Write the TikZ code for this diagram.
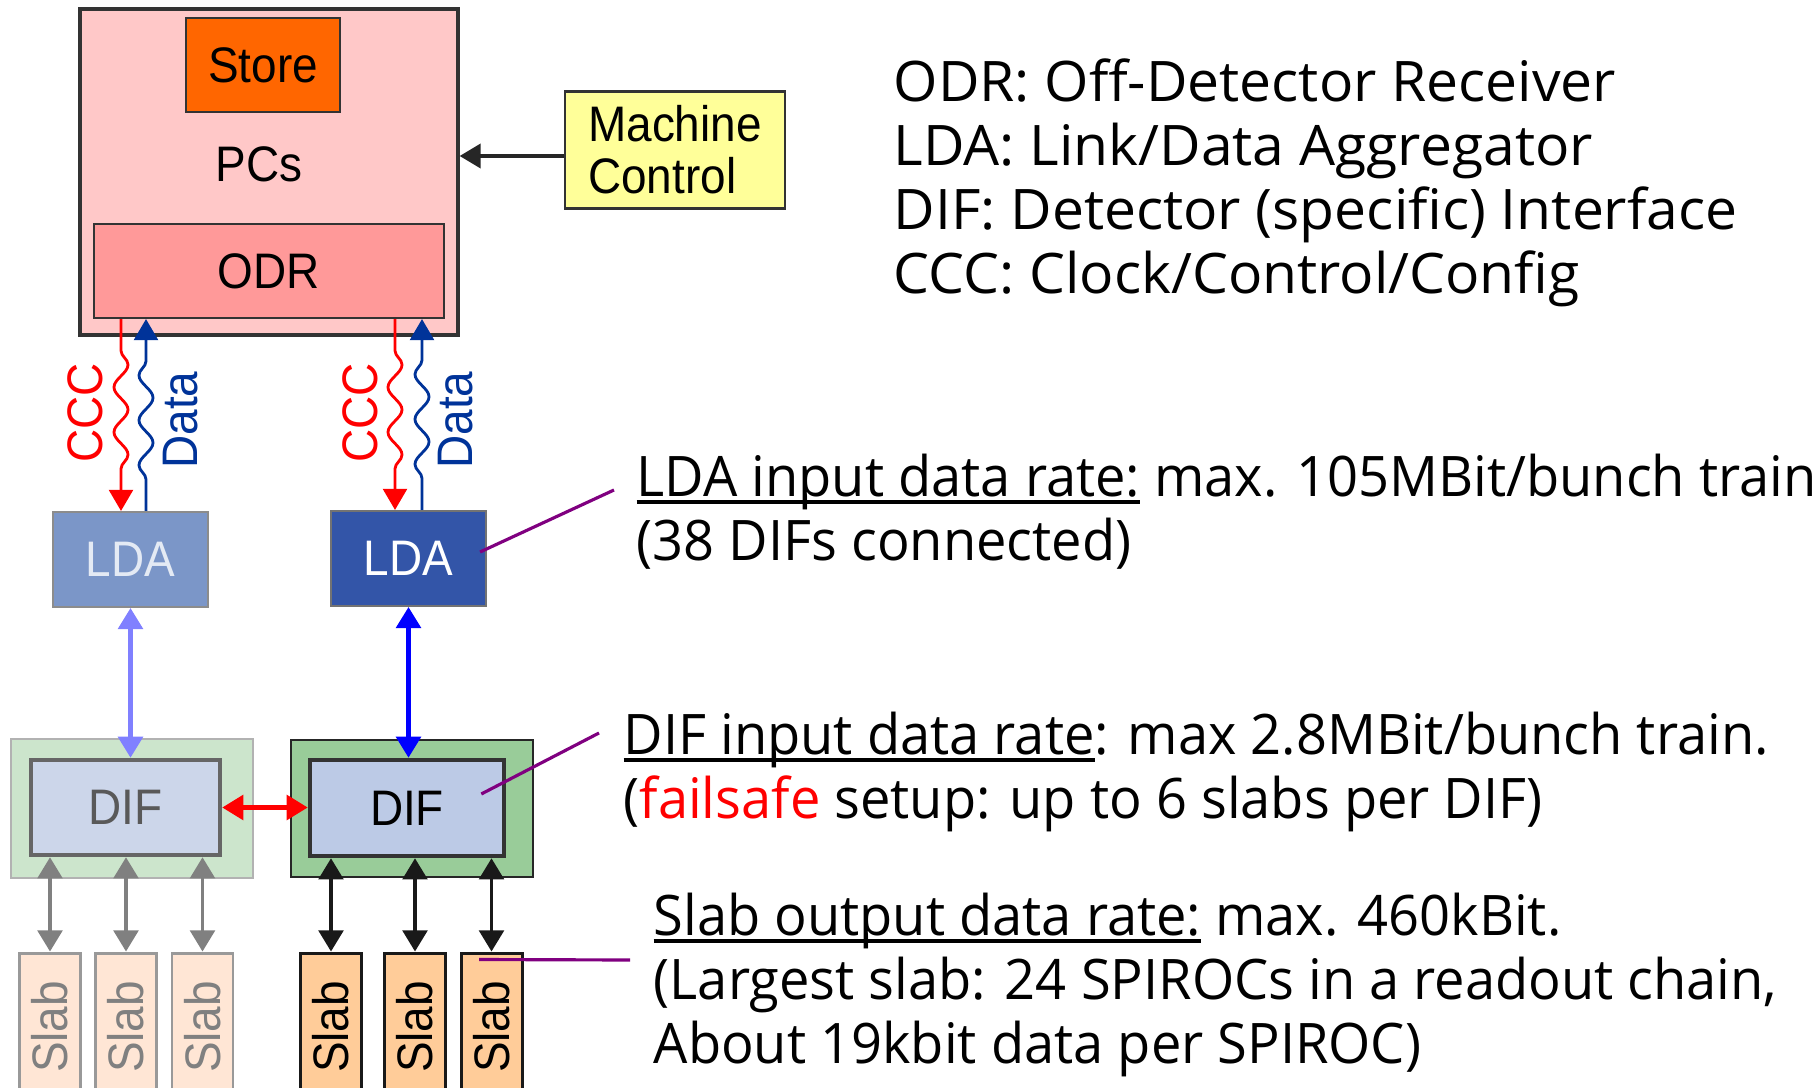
\documentclass[tikz,border=0pt]{standalone}
\usepackage{fontspec}
\setmainfont{Open Sans}
\newfontfamily\boxfont[FakeStretch=0.92]{Liberation Sans}
\newfontfamily\legendfont[FakeStretch=1.02]{Open Sans}
\newfontfamily\notefont[FakeStretch=0.97]{Open Sans}
\usepackage{xcolor}
\usetikzlibrary{calc}
\usetikzlibrary{arrows.meta, positioning}
\usetikzlibrary{decorations.pathmorphing}

\definecolor{pcpink}{HTML}{FFC8C8}
\definecolor{storeorange}{HTML}{FF6600}
\definecolor{odrpink}{HTML}{FF9999}
\definecolor{mcyellow}{HTML}{FFFF99}
\definecolor{ldafaint}{HTML}{7B96C8}
\definecolor{ldadark}{HTML}{3355A8}
\definecolor{difgreen}{HTML}{99CC99}
\definecolor{difgreenfaint}{HTML}{CCE5CC}
\definecolor{difblue}{HTML}{BCCAE6}
\definecolor{difbluefaint}{HTML}{CCD6EA}
\definecolor{slaborange}{HTML}{FFCC99}
\definecolor{slabfaint}{HTML}{FFE6D5}
\definecolor{datablue}{HTML}{003399}
\definecolor{notepurple}{HTML}{800080}

% thick underline for the rate headings
\newcommand{\ulbar}[1]{\setbox0\hbox{#1}\leavevmode\rlap{\rule[-2.4pt]{\wd0}{1.3pt}}\box0\relax}

\begin{document}
\begin{tikzpicture}[x=0.1mm, y=-0.1mm, every node/.style={inner sep=0pt},
		box/.style={rectangle, draw=black!80, line width=0.6pt, font=\boxfont\fontsize{14.2}{14.8}\selectfont},
		txt/.style={anchor=base west, font=\notefont\fontsize{15.9}{19}\selectfont},
		legend/.style={anchor=base west, font=\legendfont\fontsize{15.9}{19}\selectfont},
		bigtri/.style={-{Triangle[width=6.8pt,length=6pt]}},
		both/.style={{Triangle[width=7pt,length=6pt]}-{Triangle[width=7pt,length=6pt]}},
		wave/.style={line width=0.8pt, bigtri, decorate, decoration={snake, amplitude=2pt, segment length=12.8pt, pre length=9pt, post length=11pt}},
		note/.style={draw=notepurple, line width=0.9pt}]
		\path[fill=white] (0,0) rectangle (1818,1088);
		\clip (0,0) rectangle (1818,1088);

		% PCs and machine control
		\node[box, fill=pcpink, line width=0.9pt, minimum width=37.8mm, minimum height=32.6mm] at (269,172) (pcs) {};
		\node[box, fill=storeorange, minimum width=15.4mm, minimum height=9.4mm] at (263,65) (store) {Store};
		\node[box, draw=none] at (259,164) (pcsText) {PCs};
		\node[box, fill=odrpink, minimum width=35mm, minimum height=9.4mm] at (269,271) (odr) {ODR};
		\node[box, fill=mcyellow, align=left, minimum width=22mm, minimum height=11.7mm] at (675,150) (mc) {Machine\\Control};
		\draw[bigtri, line width=1.2pt, black!85] ([yshift=-0.6mm]mc.west) -- ([yshift=-0.6mm]mc.west -| pcs.east);

		% LDAs
		\node[box, fill=ldafaint, draw=black!45, text=white!80!ldafaint, minimum width=15.5mm, minimum height=9.5mm] at (130.5,559.5) (lda1) {LDA};
		\node[box, fill=ldadark, draw=black!55, text=white, minimum width=15.5mm, minimum height=9.5mm] at (408.5,558.5) (lda2) {LDA};

		% CCC and data links
		\draw[wave, red] (odr.south -| 121,0) -- (lda1.north -| 121,0);
		\draw[wave, datablue] (lda1.north -| 146,0) -- (odr.south -| 146,0);
		\draw[wave, red] (odr.south -| 395,0) -- (lda2.north -| 395,0);
		\draw[wave, datablue] (lda2.north -| 422,0) -- (odr.south -| 422,0);
		\node[box, draw=none, text=red, rotate=90] at (85,413) (cccA) {CCC};
		\node[box, draw=none, text=datablue, rotate=90] at (181,420) (dataA) {Data};
		\node[box, draw=none, text=red, rotate=90] at (360,413) (cccB) {CCC};
		\node[box, draw=none, text=datablue, rotate=90] at (456,420) (dataB) {Data};

		% DIFs
		\node[box, fill=difgreenfaint, draw=black!30, minimum width=24.2mm, minimum height=13.9mm] at (132,808.5) (dif1) {};
		\node[box, fill=difbluefaint, draw=black!60, line width=1.3pt, text=black!65, minimum width=18.9mm, minimum height=9.5mm] at (125.5,807.5) (dif1in) {DIF};
		\node[box, fill=difgreen, draw=black!85, minimum width=24.2mm, minimum height=13.7mm] at (412,808.5) (dif2) {};
		\node[box, fill=difblue, draw=black!80, line width=1.3pt, minimum width=19.4mm, minimum height=9.6mm] at (407,808) (dif2in) {DIF};

		\draw[both, line width=1.2pt, blue!50] (lda1.south) -- (lda1.south |- dif1in.north);
		\draw[both, line width=1.2pt, blue] (lda2.south) -- (lda2.south |- dif2in.north);
		\draw[both, line width=1.2pt, red] (dif1in.east) -- (dif1in.east -| dif2in.west);

		% slabs
		\foreach \x [count=\i] in {50,126,202.5} {
			\node[box, fill=slabfaint, draw=black!40, line width=0.85pt, text=black!50, minimum width=6.1mm, minimum height=14.8mm] at (\x,1027) (slabA\i) {\rotatebox{90}{Slab}};
			\draw[both, line width=1pt, black!50] (slabA\i.north) -- (slabA\i.north |- dif1in.south);
		}
		\foreach \x [count=\i] in {331,415,491.5} {
			\node[box, fill=slaborange, draw=black!90, line width=0.85pt, minimum width=6.1mm, minimum height=14.8mm] at (\x,1027) (slabB\i) {\rotatebox{90}{Slab}};
			\draw[both, line width=1pt, black!90] (slabB\i.north) -- (slabB\i.north |- dif2in.south);
		}

		% legend
		\node[legend] at (893,102) (lgOdr) {ODR: Off-Detector Receiver};
		\node[legend] at (893,166) (lgLda) {LDA: Link/Data Aggregator};
		\node[legend] at (893,230) (lgDif) {DIF: Detector (specific) Interface};
		\node[legend] at (893,294) (lgCcc) {CCC: Clock/Control/Config};

		% rates
		\node[txt] at (636,496) (ldaRate) {\ulbar{LDA input data rate:} max. 105MBit/bunch train};
		\node[txt] at (636,560) (ldaRateB) {(38 DIFs connected)};
		\node[txt] at (623,754) (difRate) {\ulbar{DIF input data rate}: max 2.8MBit/bunch train.};
		\node[txt] at (623,818) (difRateB) {(\textcolor{red}{failsafe} setup: up to 6 slabs per DIF)};
		\node[txt] at (653,935) (slabRate) {\ulbar{Slab output data rate:} max. 460kBit.};
		\node[txt] at (653,999) (slabRateB) {(Largest slab: 24 SPIROCs in a readout chain,};
		\node[txt] at (653,1063) (slabRateC) {About 19kbit data per SPIROC)};

		\draw[note] ([shift={(-0.7mm,0.65mm)}]lda2.east) -- ([shift={(-2.2mm,0.6mm)}]ldaRate.base west);
		\draw[note] ([shift={(-2.5mm,1.4mm)}]dif2in.east) -- ([shift={(-2.4mm,2.1mm)}]difRate.base west);
		\draw[note] ([shift={(-1.25mm,-0.8mm)}]slabB3.north) -- ([shift={(-2.3mm,-2.5mm)}]slabRate.base west);
	\end{tikzpicture}
\end{document}
